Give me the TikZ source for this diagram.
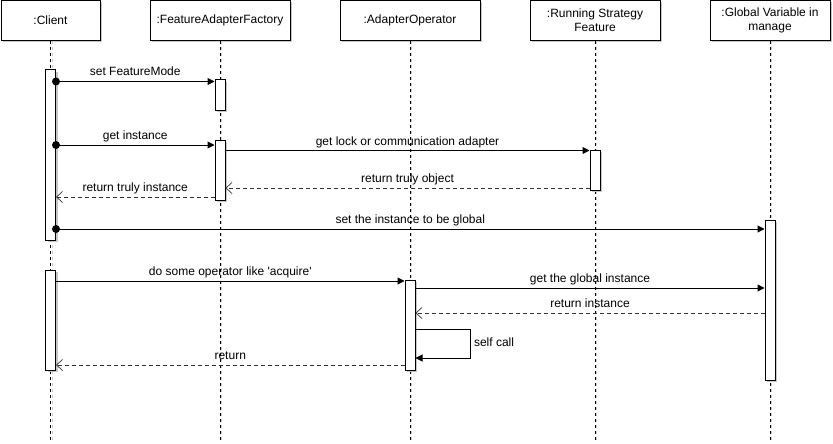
\documentclass[tikz,border=0pt]{standalone}
\usepackage{fontspec}
\setmainfont{Liberation Sans}
\usetikzlibrary{arrows.meta,shadows}
\begin{document}
\begin{tikzpicture}[x=1pt,y=-1pt,font=\fontsize{12}{14}\selectfont,line width=1pt,
  shad/.style={drop shadow={shadow xshift=2pt,shadow yshift=-2pt,fill=black!22,opacity=1}},
  head/.style={draw,fill=white,shad,minimum height=40pt,inner sep=0pt,align=center,line width=1pt},
  actbar/.style={draw,fill=white,shad,minimum width=10pt,inner sep=0pt,line width=1pt},
  life/.style={dash pattern=on 3pt off 3pt,line width=0.9pt},
  lifeshadow/.style={dash pattern=on 3pt off 3pt,line width=0.9pt,black!20},
  call/.style={-{Triangle[length=7pt,width=7pt]},line width=1pt},
  ret/.style={-{Straight Barb[length=6pt,width=11pt,line width=0.7pt]},dash pattern=on 4pt off 3pt,line width=0.9pt,black!80},
  lbl/.style={anchor=base,yshift=5.5pt,inner sep=0pt,text=black},
  startdot/.style={fill=black,circle,inner sep=0pt,minimum size=8pt}
]
\useasboundingbox (0,0) rectangle (833,444);

% headers
\node[head,minimum width=99pt]  (client)  at (50.5,20.5) {:Client};
\node[head,minimum width=140pt] (factory) at (220,20.5) {:FeatureAdapterFactory};
\node[head,minimum width=140pt] (oper)    at (410,20.5) {:AdapterOperator};
\node[head,minimum width=130pt] (run)     at (595,20.5) {:Running Strategy\\Feature};
\node[head,minimum width=120pt] (glob)    at (770,20.5) {:Global Variable in\\manage};

% lifelines
\coordinate (clientEnd)  at (50.5,440);
\coordinate (factoryEnd) at (220,440);
\coordinate (operEnd)    at (410,440);
\coordinate (runEnd)     at (595,440);
\coordinate (globEnd)    at (770,440);
\foreach \n in {client,factory,oper,run,glob}{
  \draw[lifeshadow] ([xshift=1.5pt]\n.south) -- ([xshift=1.5pt]\n End);
  \draw[life] (\n.south) -- (\n End);
}

% activation bars
\node[actbar,minimum height=170pt] (cb1) at (50.5,155) {};
\node[actbar,minimum height=100pt] (cb2) at (50.5,320) {};
\node[actbar,minimum height=30pt]  (fb1) at (220,95) {};
\node[actbar,minimum height=60pt]  (fb2) at (220,170) {};
\node[actbar,minimum height=40pt]  (rb)  at (595,170) {};
\node[actbar,minimum height=160pt] (gb)  at (770,300) {};
\node[actbar,minimum height=90pt]  (ab)  at (410,325) {};

% messages
\draw[call] (cb1.east |- 0,81.5) -- node[lbl]{set FeatureMode} (fb1.west |- 0,81.5);
\node[startdot] at (cb1.east |- 0,81.5) {};

\draw[call] (cb1.east |- 0,145) -- node[lbl]{get instance} (fb2.west |- 0,145);
\node[startdot] at (cb1.east |- 0,145) {};

\draw[call] (fb2.east |- 0,150.5) -- node[lbl]{get lock or communication adapter} (rb.west |- 0,150.5);

\draw[ret] (rb.west |- 0,188) -- node[lbl]{return truly object} (fb2.east |- 0,188);

\draw[ret] (fb2.west |- 0,197) -- node[lbl]{return truly instance} (cb1.east |- 0,197);

\draw[call] (cb1.east |- 0,229) -- node[lbl]{set the instance to be global} (gb.west |- 0,229);
\node[startdot] at (cb1.east |- 0,229) {};

\draw[call] (cb2.east |- 0,281) -- node[lbl]{do some operator like \textquotesingle acquire\textquotesingle} (ab.west |- 0,281);

\draw[call] (ab.east |- 0,288) -- node[lbl]{get the global instance} (gb.west |- 0,288);

\draw[ret] (gb.west |- 0,313) -- node[lbl]{return instance} (ab.east |- 0,313);

\draw[call] (ab.east |- 0,329) -- ++(55,0) -- node[right,inner sep=3pt,pos=0.45]{self call} ++(0,29) -- (ab.east |- 0,358);

\draw[ret] (ab.west |- 0,365) -- node[lbl]{return} (cb2.east |- 0,365);
\end{tikzpicture}
\end{document}
